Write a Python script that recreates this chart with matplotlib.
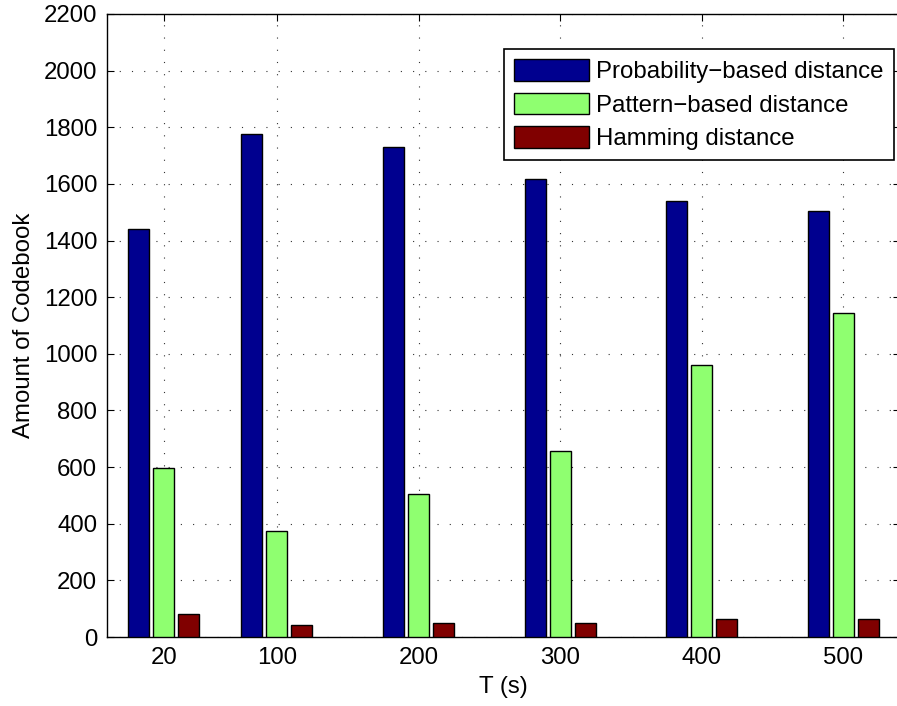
import numpy as np
import matplotlib
matplotlib.use('Agg')
import matplotlib.pyplot as plt

# T values (s) and codebook sizes
T = [20, 100, 200, 300, 400, 500]
prob_dist = [1441, 1775, 1730, 1618, 1540, 1504]
patt_dist = [597, 375, 505, 656, 960, 1145]
hamm_dist = [80, 42, 48, 50, 64, 64]
labels = ['Probability\u2212based distance', 'Pattern\u2212based distance', 'Hamming distance']

plt.rcParams['font.family'] = ['Liberation Sans', 'DejaVu Sans']
fs = 17.3

fig = plt.figure(figsize=(8.97, 7.06), dpi=100)
ax = fig.add_axes([107/897., 69/706., 793/897., 623/706.])

x = np.array(T, dtype=float)
w = 14.8
off = 17.65
ax.bar(x - off, prob_dist, w, color='#00008f', edgecolor='black', linewidth=1.0, label=labels[0], zorder=3)
ax.bar(x, patt_dist, w, color='#8fff70', edgecolor='black', linewidth=1.0, label=labels[1], zorder=3)
ax.bar(x + off, hamm_dist, w, color='#800000', edgecolor='black', linewidth=1.0, label=labels[2], zorder=3)

ax.set_xlim(-20, 540)
ax.set_ylim(0, 2200)
ax.set_xticks(T)
ax.set_yticks(np.arange(0, 2201, 200))
ax.tick_params(direction='in', length=5, width=0.8, top=True, right=True, labelsize=fs, pad=7)
ax.grid(True, color='#333333', linestyle=(0, (1, 10)), linewidth=0.8)
ax.set_axisbelow(True)
for s in ax.spines.values():
    s.set_linewidth(1.0)

ax.set_xlabel('T (s)', fontsize=fs, labelpad=5)
ax.set_ylabel('Amount of Codebook', fontsize=fs, labelpad=6)

leg = ax.legend(loc='upper right', bbox_to_anchor=(0.9924, 0.9438), fontsize=fs,
                handlelength=3.14, handleheight=1.0, labelspacing=0.40, handletextpad=0.3,
                borderpad=0.42, borderaxespad=0, fancybox=False, framealpha=1)
leg.get_frame().set_edgecolor('black')
leg.get_frame().set_linewidth(1.2)

fig.savefig('out.png', dpi=100)
